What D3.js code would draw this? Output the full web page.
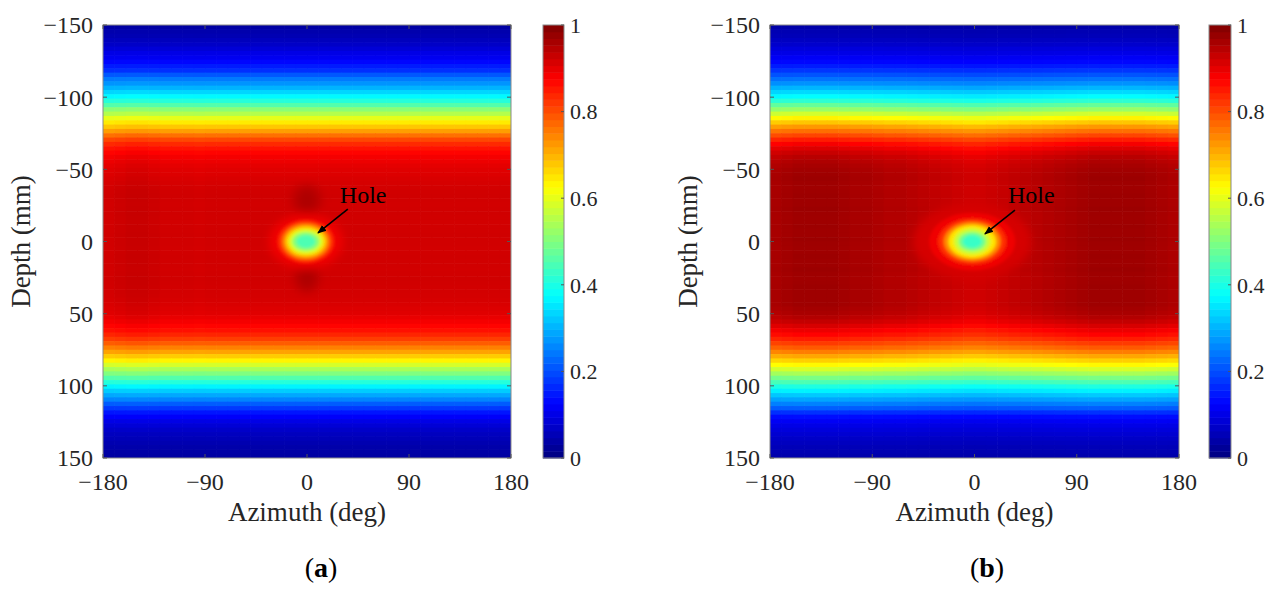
<!DOCTYPE html>
<html><head><meta charset="utf-8">
<script src="https://cdn.jsdelivr.net/npm/d3@7"></script>
<style>body{margin:0;background:#fff}svg{display:block}text{font-family:"Liberation Serif","Times New Roman",serif}</style>
</head><body>
<svg id="c" width="1286" height="594"></svg>
<script>
// ---------- DATA ----------
// depth row centres (mm), 3 mm rows from -148.5 to 148.5
const depthRows = d3.range(100).map(i => -148.5 + 3 * i);
// azimuth column centres (deg), 10 deg columns
const azCols = d3.range(36).map(i => -175 + 10 * i);

// normalised amplitude vs depth, panel (a)
const profileA = [
 0.035,0.045,0.05,0.06,0.07,0.085,0.10,0.11,0.13,0.15,
 0.17,0.21,0.245,0.27,0.30,0.335,0.37,0.41,0.455,0.51,
 0.55,0.60,0.645,0.68,0.72,0.765,0.805,0.835,0.857,0.872,
 0.885,0.893,0.90,0.905,0.908,0.912,0.915,
 0.918,0.92,0.921,0.92,0.919,0.92,0.921,0.92,0.919,0.92,0.92,0.921,0.92,0.92,0.919,0.92,0.921,0.92,0.92,0.919,0.92,0.921,0.92,0.919,0.918,0.917,0.915,
 0.912,0.908,0.905,0.897,0.885,0.872,0.86,0.84,0.815,0.785,0.75,0.715,0.675,0.635,0.585,0.54,0.50,0.455,0.41,0.365,
 0.325,0.29,0.255,0.215,0.18,0.145,0.12,0.10,0.085,0.072,0.062,0.055,0.048,0.042,0.038,0.035
];
// normalised amplitude vs depth, panel (b)
const profileB = [
 0.04,0.05,0.055,0.065,0.075,0.09,0.10,0.115,0.13,0.15,
 0.175,0.205,0.235,0.265,0.30,0.335,0.37,0.415,0.47,0.52,
 0.575,0.63,0.675,0.72,0.76,0.80,0.84,0.875,0.90,0.92,
 0.935,0.945,0.952,0.957,
 0.96,0.962,0.96,0.959,0.96,0.961,0.96,0.96,0.962,0.96,0.959,0.96,0.961,0.96,0.96,0.962,0.96,0.959,0.96,0.961,0.96,0.96,0.962,0.96,0.959,0.96,0.961,0.96,0.96,0.96,0.96,
 0.955,0.95,0.94,0.925,0.905,0.885,0.865,0.84,0.81,0.78,0.745,0.705,0.665,0.625,0.58,0.535,0.49,0.445,0.40,0.36,
 0.32,0.285,0.25,0.215,0.17,0.135,0.115,0.10,0.09,0.08,0.07,0.062,0.055,0.05,0.045
];
// azimuthal gain per column
const gainA = [1.0,1.005,1.01,1.01,1.005,1.0,1.0,1.0,0.998,1.0,1.0,1.0,1.0,1.0,1.0,1.0,1.0,1.0,
               1.0,1.0,1.0,1.0,1.0,1.0,1.0,1.0,1.0,1.0,1.0,1.0,1.0,1.0,1.0,1.0,1.0,1.0];
const gainB = [1.0,1.005,1.01,1.01,1.01,1.01,1.005,1.0,1.0,0.995,0.99,0.99,0.985,0.98,0.975,0.97,0.965,0.96,
               0.96,0.965,0.97,0.975,0.98,0.985,0.99,0.995,1.0,1.005,1.01,1.01,1.01,1.01,1.01,1.005,1.0,0.995];

// hole response: nested level bands (value, half-width deg, half-height mm)
const holeLevelsA = [0.89,0.83,0.75,0.67,0.59,0.51,0.45];
const holeRxA     = [33,25,21,18,15,12,8.5];
const holeRyA     = [19,15,12.5,10.5,8.5,6.5,4.5];
const holeCentreA = [-1,0];
const holeLevelsB = [0.915,0.89,0.83,0.74,0.65,0.57,0.49,0.43];
const holeRxB     = [52,38,30,25,21,16,12,8.5];
const holeRyB     = [26,20,16,13.5,11.5,9,6.5,4.5];
const holeCentreB = [-2,0];
// darker lobes above / below the hole in (a): [az, depth, value, rx, ry]
const lobesA = [[0,-29,0.94,14,11],[0,-29,0.955,8,7],[0,25,0.94,12,11],[0,25,0.955,7,7]];

// annotation: text anchor [az, depth], arrow from, arrow to
const labelA = [29,-26.7], arrowA = [[36,-22.5],[9.7,-5.9]];
const labelB = [29.5,-26.7], arrowB = [[35.6,-21.8],[9.2,-5.2]];

const xTicks = [-180,-90,0,90,180];
const yTicks = [-150,-100,-50,0,50,100,150];
const cTicks = [0,0.2,0.4,0.6,0.8,1];
const captions = ["a","b"];

// ---------- DRAW ----------
function jet(v){
  v = Math.max(0, Math.min(1, v));
  const cl = t => Math.max(0, Math.min(1, t));
  const r = cl(1.5 - Math.abs(4*v - 3)), g = cl(1.5 - Math.abs(4*v - 2)), b = cl(1.5 - Math.abs(4*v - 1));
  return d3.rgb(r*255, g*255, b*255).toString();
}
const fmt = v => (v < 0 ? "\u2212" : "") + Math.abs(v);
const svg = d3.select("#c");
const defs = svg.append("defs");
defs.append("marker").attr("id","ah").attr("viewBox","0 0 10 10").attr("refX",9).attr("refY",5)
  .attr("markerWidth",9).attr("markerHeight",9).attr("markerUnits","userSpaceOnUse").attr("orient","auto")
  .append("path").attr("d","M0,1 L10,5 L0,9 Z").attr("fill","#000");
defs.append("filter").attr("id","blur").attr("x","-50%").attr("y","-50%").attr("width","200%").attr("height","200%")
  .append("feGaussianBlur").attr("stdDeviation",1.5);
defs.append("filter").attr("id","blur2").attr("x","-50%").attr("y","-50%").attr("width","200%").attr("height","200%")
  .append("feGaussianBlur").attr("stdDeviation",4);

const panels = [
  {L:103, R:511, T:25, B:458, cbL:543, cbR:564, ylabX:30, capX:321, prof:profileA, gain:gainA,
   lv:holeLevelsA, rx:holeRxA, ry:holeRyA, hc:holeCentreA, lobes:lobesA, lab:labelA, arr:arrowA},
  {L:770, R:1179, T:25, B:458, cbL:1209, cbR:1231, ylabX:697, capX:987, prof:profileB, gain:gainB,
   lv:holeLevelsB, rx:holeRxB, ry:holeRyB, hc:holeCentreB, lobes:[], lab:labelB, arr:arrowB}
];
const axisCol = "#262626";

panels.forEach((p, pi) => {
  const x = d3.scaleLinear().domain([-180,180]).range([p.L,p.R]);
  const y = d3.scaleLinear().domain([-150,150]).range([p.T,p.B]);
  const cid = "clip"+pi;
  defs.append("clipPath").attr("id",cid).append("rect").attr("x",p.L).attr("y",p.T).attr("width",p.R-p.L).attr("height",p.B-p.T);
  const g = svg.append("g").attr("clip-path",`url(#${cid})`);
  // heat-map cells
  const cells = [];
  depthRows.forEach((d, i) => azCols.forEach((a, j) => cells.push({d, a, v: Math.min(1, p.prof[i]*p.gain[j])})));
  g.selectAll("rect.cell").data(cells).join("rect").attr("class","cell")
    .attr("x", c => x(c.a-5)).attr("y", c => y(c.d-1.5))
    .attr("width", c => x(c.a+5)-x(c.a-5)+0.6).attr("height", c => y(c.d+1.5)-y(c.d-1.5)+0.6)
    .attr("fill", c => jet(c.v));
  // hole features: soft outer halo, sharper inner bands
  const holes = p.lv.map((v,k)=>({v, rx:p.rx[k], ry:p.ry[k], k}));
  const outer = g.append("g").attr("filter","url(#blur2)");
  outer.selectAll("ellipse.lobe").data(p.lobes).join("ellipse").attr("class","lobe")
    .attr("cx", l => x(l[0])).attr("cy", l => y(l[1]))
    .attr("rx", l => x(l[3]) - x(0)).attr("ry", l => y(l[4]) - y(0)).attr("fill", l => jet(l[2]));
  outer.selectAll("ellipse.hole").data(holes.slice(0,1)).join("ellipse").attr("class","hole")
    .attr("cx", x(p.hc[0])).attr("cy", y(p.hc[1]))
    .attr("rx", h => x(h.rx) - x(0)).attr("ry", h => y(h.ry) - y(0)).attr("fill", h => jet(h.v));
  const inner = g.append("g").attr("filter","url(#blur)");
  inner.selectAll("ellipse.hole").data(holes.slice(1)).join("ellipse").attr("class","hole")
    .attr("cx", x(p.hc[0])).attr("cy", y(p.hc[1]))
    .attr("rx", h => x(h.rx) - x(0)).attr("ry", h => y(h.ry) - y(0)).attr("fill", h => jet(h.v));
  // frame and ticks
  svg.append("rect").attr("x",p.L).attr("y",p.T).attr("width",p.R-p.L).attr("height",p.B-p.T)
    .attr("fill","none").attr("stroke","#8a8a8a").attr("stroke-width",1);
  const tk = svg.append("g").attr("stroke","#555").attr("stroke-width",1);
  xTicks.forEach(t => { tk.append("line").attr("x1",x(t)).attr("x2",x(t)).attr("y1",p.B).attr("y2",p.B-4);
                        tk.append("line").attr("x1",x(t)).attr("x2",x(t)).attr("y1",p.T).attr("y2",p.T+4); });
  yTicks.forEach(t => { tk.append("line").attr("y1",y(t)).attr("y2",y(t)).attr("x1",p.L).attr("x2",p.L+4);
                        tk.append("line").attr("y1",y(t)).attr("y2",y(t)).attr("x1",p.R).attr("x2",p.R-4); });
  svg.append("g").selectAll("text").data(xTicks).join("text")
    .attr("x", t => x(t)).attr("y", 490).attr("text-anchor","middle").attr("font-size",24).attr("fill",axisCol).text(fmt);
  svg.append("g").selectAll("text").data(yTicks).join("text")
    .attr("x", p.L-10).attr("y", t => y(t)).attr("dy","0.35em").attr("text-anchor","end").attr("font-size",24).attr("fill",axisCol).text(fmt);
  svg.append("text").attr("x",(p.L+p.R)/2).attr("y",521).attr("text-anchor","middle").attr("font-size",27).attr("fill",axisCol).text("Azimuth (deg)");
  svg.append("text").attr("transform",`translate(${p.ylabX},${(p.T+p.B)/2}) rotate(-90)`).attr("text-anchor","middle")
    .attr("font-size",27).attr("fill",axisCol).text("Depth (mm)");
  // annotation
  svg.append("line").attr("x1",x(p.arr[0][0])).attr("y1",y(p.arr[0][1])).attr("x2",x(p.arr[1][0])).attr("y2",y(p.arr[1][1]))
    .attr("stroke","#000").attr("stroke-width",1.6).attr("marker-end","url(#ah)");
  svg.append("text").attr("x",x(p.lab[0])).attr("y",y(p.lab[1])).attr("font-size",24).attr("fill","#000").text("Hole");
  // colour bar
  const cy = d3.scaleLinear().domain([0,1]).range([p.B,p.T]);
  const steps = d3.range(64);
  svg.append("g").selectAll("rect").data(steps).join("rect")
    .attr("x",p.cbL).attr("width",p.cbR-p.cbL)
    .attr("y", k => cy((k+1)/64)).attr("height", k => cy(k/64)-cy((k+1)/64)+0.5)
    .attr("fill", k => jet((k+0.5)/64));
  svg.append("rect").attr("x",p.cbL).attr("y",p.T).attr("width",p.cbR-p.cbL).attr("height",p.B-p.T)
    .attr("fill","none").attr("stroke","#8a8a8a");
  cTicks.forEach(t => svg.append("line").attr("x1",p.cbR).attr("x2",p.cbR-3).attr("y1",cy(t)).attr("y2",cy(t)).attr("stroke","#555"));
  svg.append("g").selectAll("text").data(cTicks).join("text")
    .attr("x",p.cbR+6).attr("y", t => cy(t)).attr("dy","0.35em").attr("font-size",22).attr("fill",axisCol).text(t => String(t));
  // caption
  const cap = svg.append("text").attr("x",p.capX).attr("y",577).attr("text-anchor","middle").attr("font-size",28).attr("fill","#000");
  cap.append("tspan").text("(");
  cap.append("tspan").attr("font-weight","bold").text(captions[pi]);
  cap.append("tspan").text(")");
});
</script>
</body></html>
